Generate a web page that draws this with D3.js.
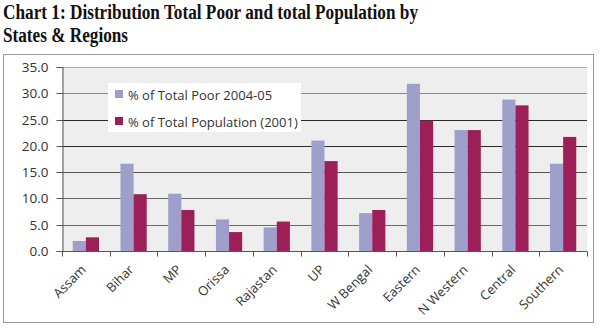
<!DOCTYPE html>
<html>
<head>
<meta charset="utf-8">
<script src="https://cdn.jsdelivr.net/npm/d3@7"></script>
<style>
  body { margin: 0; background: #fff; }
  svg { display: block; }
</style>
</head>
<body>
<div id="chart"></div>
<script>
// States and regions along the x axis
var states = ["Assam", "Bihar", "MP", "Orissa", "Rajastan", "UP", "W Bengal",
  "Eastern", "N Western", "Central", "Southern"];

// % share of total poor, 2004-05
var poorShare = [1.9, 16.6, 10.9, 6.0, 4.5, 21.0, 7.2, 31.8, 23.0, 28.8, 16.6];
// % share of total population, 2001
var popShare = [2.6, 10.8, 7.8, 3.6, 5.6, 17.1, 7.8, 24.8, 23.0, 27.7, 21.7];

var seriesNames = ["% of Total Poor 2004-05", "% of Total Population (2001)"];
var seriesColors = ["#a09fcc", "#9c1f57"];
var yTicks = [0, 5, 10, 15, 20, 25, 30, 35];
// gridline shades, the middle ones print darker
var gridShade = {5: "#6a6a6a", 10: "#666", 15: "#555", 20: "#2a2a2a", 25: "#2a2a2a", 30: "#8a8a8a", 35: "#adadad"};

var W = 600, H = 330;
var plot = {left: 62, right: 587, top: 67, bottom: 251};
var sans = "'Open Sans', 'Noto Sans', sans-serif";

var svg = d3.select("#chart").append("svg")
  .attr("width", W).attr("height", H);

// title, bold condensed serif
var title = svg.append("g")
  .attr("font-family", "'Liberation Serif', 'DejaVu Serif', serif")
  .attr("font-weight", "bold")
  .attr("font-size", 20)
  .attr("fill", "#111");
title.append("text").attr("x", 3).attr("y", 19)
  .attr("textLength", 415).attr("lengthAdjust", "spacingAndGlyphs")
  .text("Chart 1: Distribution Total Poor and total Population by");
title.append("text").attr("x", 3).attr("y", 42)
  .attr("textLength", 125).attr("lengthAdjust", "spacingAndGlyphs")
  .text("States & Regions");

// outer frame
svg.append("rect")
  .attr("x", 3.5).attr("y", 54.5)
  .attr("width", 590).attr("height", 268)
  .attr("fill", "#fff").attr("stroke", "#9a9a9a").attr("stroke-width", 1);

// plot background
svg.append("rect")
  .attr("x", plot.left).attr("y", plot.top)
  .attr("width", plot.right - plot.left).attr("height", plot.bottom - plot.top)
  .attr("fill", "#eeeeee");

var x0 = d3.scaleBand().domain(states).range([plot.left, plot.right])
  .paddingInner(0.45).paddingOuter(0.225);
var x1 = d3.scaleBand().domain([0, 1]).range([0, x0.bandwidth()]);
var xOuter = d3.scaleBand().domain(states).range([plot.left, plot.right]);

var y = d3.scaleLinear().domain([0, 35]).range([plot.bottom, plot.top]);

// gridlines
svg.append("g").selectAll("line").data(yTicks.slice(1)).enter().append("line")
  .attr("x1", plot.left).attr("x2", plot.right)
  .attr("y1", function(d){ return Math.round(y(d)) + 0.5; })
  .attr("y2", function(d){ return Math.round(y(d)) + 0.5; })
  .attr("stroke", function(d){ return gridShade[d]; })
  .attr("stroke-width", 1);

// bars
var rows = states.map(function(s, i){ return {state: s, vals: [poorShare[i], popShare[i]]}; });
var groups = svg.append("g").selectAll("g").data(rows).enter().append("g")
  .attr("transform", function(d){ return "translate(" + x0(d.state) + ",0)"; });
groups.selectAll("rect").data(function(d){ return d.vals; }).enter().append("rect")
  .attr("x", function(d, i){ return x1(i); })
  .attr("width", x1.bandwidth())
  .attr("y", function(d){ return y(d); })
  .attr("height", function(d){ return plot.bottom - y(d); })
  .attr("fill", function(d, i){ return seriesColors[i]; });

// y axis
var yAxis = d3.axisLeft(y).tickValues(yTicks).tickSize(6).tickPadding(8)
  .tickFormat(d3.format(".1f"));
var gy = svg.append("g")
  .attr("transform", "translate(" + (plot.left + 0.5) + ",0)")
  .call(yAxis);
gy.select(".domain").attr("stroke", "#555");
gy.selectAll(".tick line").attr("stroke", "#555");
gy.selectAll(".tick").attr("transform", function(d){
  return "translate(0," + (Math.round(y(d)) + 0.5) + ")"; });
gy.selectAll("text")
  .attr("font-family", sans)
  .attr("font-size", 13.5).attr("fill", "#333");

// x axis, ticks at category boundaries
var gx = svg.append("g")
  .attr("transform", "translate(0," + (plot.bottom + 0.5) + ")");
gx.append("line").attr("x1", plot.left).attr("x2", plot.right)
  .attr("stroke", "#555");
gx.selectAll(".tk").data(states.concat(["end"])).enter().append("line")
  .attr("class", "tk")
  .attr("x1", function(d, i){ return Math.round(plot.left + i * xOuter.step()) + 0.5; })
  .attr("x2", function(d, i){ return Math.round(plot.left + i * xOuter.step()) + 0.5; })
  .attr("y1", 0).attr("y2", 5)
  .attr("stroke", "#555");
gx.selectAll("text").data(states).enter().append("text")
  .attr("transform", function(d){
    var cx = xOuter(d) + xOuter.bandwidth() / 2 + 1;
    return "translate(" + cx + ",19) rotate(-45)"; })
  .attr("text-anchor", "end")
  .attr("font-family", sans)
  .attr("font-size", 13).attr("fill", "#333")
  .text(function(d){ return d; });

// legend
var leg = svg.append("g").attr("transform", "translate(108,83)");
leg.append("rect").attr("width", 193).attr("height", 49).attr("fill", "#fff");
leg.selectAll("g").data(seriesNames).enter().append("g")
  .attr("transform", function(d, i){ return "translate(7," + (7 + i * 27) + ")"; })
  .each(function(d, i){
    var g = d3.select(this);
    g.append("rect").attr("width", 8).attr("height", 8).attr("fill", seriesColors[i]);
    g.append("text").attr("x", 13).attr("y", 10)
      .attr("font-family", sans)
      .attr("font-size", 13).attr("fill", "#333")
      .text(d);
  });
</script>
</body>
</html>
